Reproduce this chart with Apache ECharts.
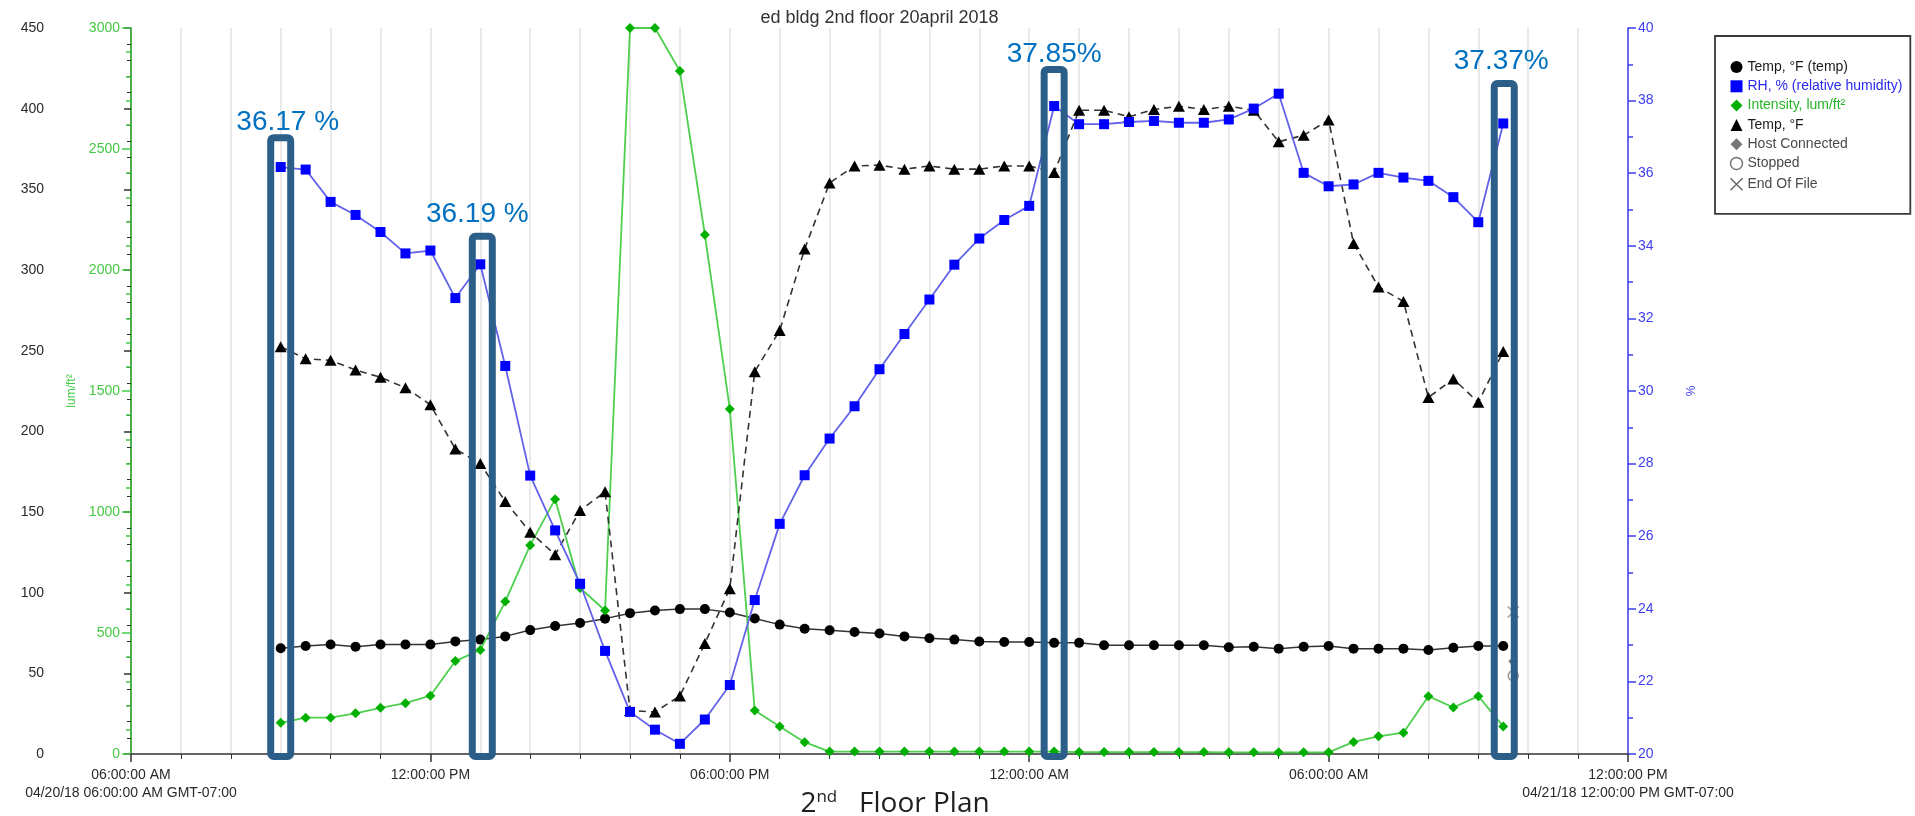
<!DOCTYPE html>
<html>
<head>
<meta charset="utf-8">
<title>ed bldg 2nd floor 20april 2018</title>
<script src="https://cdn.jsdelivr.net/npm/echarts@6/dist/echarts.min.js"></script>
<style>
  html, body { margin: 0; padding: 0; background: #fff; }
  #chart { width: 1915px; height: 816px; }
</style>
</head>
<body>
<div id="chart"></div>
<script>
// ---- logger export: ed bldg, 2nd floor, one reading every 30 minutes ----
const chartTitle = 'ed bldg 2nd floor 20april 2018';

const readingTimes = [
  '04/20 09:00','04/20 09:30','04/20 10:00','04/20 10:30','04/20 11:00','04/20 11:30',
  '04/20 12:00','04/20 12:30','04/20 13:00','04/20 13:30','04/20 14:00','04/20 14:30',
  '04/20 15:00','04/20 15:30','04/20 16:00','04/20 16:30','04/20 17:00','04/20 17:30',
  '04/20 18:00','04/20 18:30','04/20 19:00','04/20 19:30','04/20 20:00','04/20 20:30',
  '04/20 21:00','04/20 21:30','04/20 22:00','04/20 22:30','04/20 23:00','04/20 23:30',
  '04/21 00:00','04/21 00:30','04/21 01:00','04/21 01:30','04/21 02:00','04/21 02:30',
  '04/21 03:00','04/21 03:30','04/21 04:00','04/21 04:30','04/21 05:00','04/21 05:30',
  '04/21 06:00','04/21 06:30','04/21 07:00','04/21 07:30','04/21 08:00','04/21 08:30',
  '04/21 09:00','04/21 09:30'
];

// Temp, °F (temp) — left axis
const tempF = [
  65.5, 66.9, 67.9, 66.5, 67.9, 67.9, 67.9, 69.8, 70.9, 72.9,
  76.8, 79.3, 81.2, 83.9, 87.3, 89.0, 89.8, 89.8, 87.7, 84.0,
  80.2, 77.6, 76.7, 75.6, 74.7, 72.9, 71.7, 70.9, 69.7, 69.4,
  69.4, 68.9, 68.9, 67.4, 67.4, 67.4, 67.4, 67.4, 66.2, 66.5,
  65.3, 66.5, 66.9, 65.3, 65.3, 65.3, 64.5, 65.9, 66.9, 66.9
];

// RH, % (relative humidity) — right axis
const relHumidity = [
  36.17, 36.10, 35.21, 34.85, 34.38, 33.79, 33.87, 32.56, 33.49, 30.69,
  27.67, 26.16, 24.69, 22.84, 21.16, 20.67, 20.28, 20.95, 21.90, 24.24,
  26.34, 27.68, 28.69, 29.58, 30.60, 31.57, 32.52, 33.48, 34.20, 34.71,
  35.10, 37.85, 37.35, 37.35, 37.41, 37.44, 37.39, 37.39, 37.48, 37.78,
  38.19, 36.01, 35.64, 35.69, 36.01, 35.88, 35.79, 35.34, 34.65, 37.37
];

// Intensity, lum/ft² — green axis
const intensity = [
  129, 150, 150, 168, 191, 210, 241, 384, 430, 630,
  863, 1053, 686, 593, 3000, 3000, 2822, 2146, 1426, 180,
  114, 49, 10, 10, 10, 10, 10, 10, 10, 10,
  10, 10, 8, 8, 8, 8, 8, 8, 7, 7,
  7, 7, 7, 50, 73, 88, 239, 192, 239, 114
];

// Temp, °F (second channel) — left axis, dashed
const tempF2 = [
  252.5, 245, 244, 238, 233.5, 227, 216.5, 189, 180, 156.5,
  137.5, 123.5, 151, 162.5, 27, 26, 36, 68.5, 102.5, 237,
  262.5, 313, 354, 364.5, 365, 362.5, 364.5, 362.5, 362.5, 364.5,
  364.5, 360.5, 399, 399, 395, 399.5, 401.5, 399.5, 401.5, 399,
  379.5, 383.5, 393, 316.5, 289.5, 280.5, 221, 232.5, 218, 249.5
];

// logger events at the end of the file
const eventTime = '04/21 09:42';
const hostConnected = [57.5];
const stopped = [48.5];
const endOfFile = [88];

const xTickLabels = ['06:00:00 AM', '12:00:00 PM', '06:00:00 PM', '12:00:00 AM', '06:00:00 AM', '12:00:00 PM'];
const rangeStartLabel = '04/20/18 06:00:00 AM GMT-07:00';
const rangeEndLabel = '04/21/18 12:00:00 PM GMT-07:00';

// highlighted readings
const callouts = [
  { index: 0,  text: '36.17 %' },
  { index: 8,  text: '36.19 %' },
  { index: 31, text: '37.85%' },
  { index: 49, text: '37.37%' }
];

// ---- layout / styling ----
const FONT = '"Liberation Sans", Arial, Helvetica, sans-serif';
const C_BLACK = '#000000';
const C_LINE = '#333333';
const C_BLUE = '#0000ff';
const C_BLUE_LINE = '#6262ea';
const C_GREEN = '#00b000';
const C_GREEN_LINE = '#4fcf4f';
const C_GREEN_AXIS = '#45c845';
const C_BLUE_AXIS = '#3e3ef0';
const C_GRID = '#e2e2e2';
const C_CALLOUT = '#2b5e88';
const C_CALLOUT_TEXT = '#0070c0';

// box top (in RH units), box x nudge, label x nudge, label lift above box (px)
const calloutLayout = [
  { top: 36.98, boxDx: 0, labelDx: 7,  lift: 4 },
  { top: 34.26, boxDx: 2, labelDx: -5, lift: 11 },
  { top: 38.86, boxDx: 0, labelDx: 0,  lift: 4 },
  { top: 38.47, boxDx: 1, labelDx: -3, lift: 10.5 }
];

// hours elapsed since 04/20 06:00
function toHours(s) {
  const [md, hm] = s.split(' ');
  const day = Number(md.split('/')[1]);
  const [h, m] = hm.split(':').map(Number);
  return (day - 20) * 24 + h + m / 60 - 6;
}
const hours = readingTimes.map(toHours);
const pairs = arr => arr.map((v, i) => [hours[i], v]);

const chart = echarts.init(document.getElementById('chart'), null, { renderer: 'canvas' });

const xLabelFormatter = v => {
  const k = Math.round(v / 6);
  let s = xTickLabels[k] || '';
  if (k === 0) s += '\n' + rangeStartLabel;
  if (k === xTickLabels.length - 1) s += '\n' + rangeEndLabel;
  return s;
};
const plainNumber = v => String(v);

const lineBase = {
  type: 'line',
  showSymbol: true,
  clip: false,
  emphasis: { disabled: true },
  animation: false
};

chart.setOption({
  animation: false,
  textStyle: { fontFamily: FONT },
  grid: { left: 131, right: 287, top: 28, bottom: 62 },
  legend: {
    orient: 'vertical',
    left: 1715,
    top: 36,
    padding: [24, 8, 21, 13],
    itemWidth: 12,
    itemHeight: 12,
    itemGap: 5.3,
    borderColor: '#3a3a3a',
    borderWidth: 1.8,
    selectedMode: false,
    textStyle: { fontSize: 14, lineHeight: 14, fontFamily: FONT, color: '#1a1a1a' },
    data: [
      { name: 'Temp, °F (temp)', icon: 'circle', itemStyle: { color: C_BLACK }, textStyle: { color: '#1a1a1a' } },
      { name: 'RH, % (relative humidity)', icon: 'rect', itemStyle: { color: C_BLUE }, textStyle: { color: '#2a2aee' } },
      { name: 'Intensity, lum/ft²', icon: 'diamond', itemStyle: { color: C_GREEN }, textStyle: { color: '#28b428' } },
      { name: 'Temp, °F', icon: 'triangle', itemStyle: { color: C_BLACK }, textStyle: { color: '#1a1a1a' } },
      { name: 'Host Connected', icon: 'diamond', itemStyle: { color: '#555' }, textStyle: { color: '#4a4a4a' } },
      { name: 'Stopped', icon: 'circle', itemStyle: { color: '#fff', borderColor: '#555', borderWidth: 1.5 }, textStyle: { color: '#4a4a4a' } },
      { name: 'End Of File', icon: 'path://M0,0L10,10M10,0L0,10', itemStyle: { color: 'none', borderColor: '#444', borderWidth: 1.5 }, textStyle: { color: '#4a4a4a' } }
    ]
  },
  xAxis: {
    type: 'value',
    min: 0,
    max: 30,
    interval: 6,
    axisLine: { show: true, onZero: false, lineStyle: { color: C_LINE, width: 1.5 } },
    axisTick: { show: true, length: 8, lineStyle: { color: C_LINE, width: 1.5 } },
    minorTick: { show: true, splitNumber: 6, length: 5, lineStyle: { color: C_LINE, width: 1 } },
    splitLine: { show: true, lineStyle: { color: C_GRID, width: 1.5 } },
    minorSplitLine: { show: true, lineStyle: { color: C_GRID, width: 1.5 } },
    axisLabel: {
      formatter: xLabelFormatter,
      color: '#2a2a2a',
      fontSize: 14,
      lineHeight: 18,
      margin: 12,
      showMinLabel: true,
      showMaxLabel: true,
      hideOverlap: false
    }
  },
  yAxis: [
    {
      type: 'value', position: 'left', offset: 79,
      min: 0, max: 450, interval: 50,
      axisLine: { show: true, lineStyle: { color: C_LINE, width: 1.5 } },
      axisTick: { show: true, length: 7, lineStyle: { color: C_LINE, width: 1.5 } },
      minorTick: { show: true, splitNumber: 5, length: 4, lineStyle: { color: C_LINE, width: 1 } },
      splitLine: { show: false },
      axisLabel: { color: '#2a2a2a', fontSize: 14, margin: 8, formatter: plainNumber }
    },
    {
      type: 'value', position: 'left', offset: 0,
      min: 0, max: 3000, interval: 500,
      name: 'lum/ft²', nameLocation: 'middle', nameGap: 53,
      nameTextStyle: { color: C_GREEN_AXIS, fontSize: 12, fontFamily: FONT },
      axisLine: { show: true, lineStyle: { color: C_GREEN_AXIS, width: 1.5 } },
      axisTick: { show: true, length: 9, lineStyle: { color: C_GREEN_AXIS, width: 1.5 } },
      minorTick: { show: true, splitNumber: 5, length: 5, lineStyle: { color: C_GREEN_AXIS, width: 1.5 } },
      splitLine: { show: false },
      axisLabel: { color: C_GREEN_AXIS, fontSize: 14, margin: 11, formatter: plainNumber }
    },
    {
      type: 'value', position: 'right', offset: 0,
      min: 20, max: 40, interval: 2,
      name: '%', nameLocation: 'middle', nameGap: 58,
      nameTextStyle: { color: C_BLUE_AXIS, fontSize: 12, fontFamily: FONT },
      axisLine: { show: true, lineStyle: { color: C_BLUE_AXIS, width: 1.5 } },
      axisTick: { show: true, length: 8, lineStyle: { color: C_BLUE_AXIS, width: 1.5 } },
      minorTick: { show: true, splitNumber: 2, length: 5, lineStyle: { color: C_BLUE_AXIS, width: 1.5 } },
      splitLine: { show: false },
      axisLabel: { color: C_BLUE_AXIS, fontSize: 14, margin: 10, formatter: plainNumber }
    }
  ],
  series: [
    Object.assign({}, lineBase, {
      name: 'Temp, °F (temp)', yAxisIndex: 0, z: 3,
      data: pairs(tempF),
      symbol: 'circle', symbolSize: 10,
      itemStyle: { color: C_BLACK },
      lineStyle: { color: C_LINE, width: 1.5 }
    }),
    Object.assign({}, lineBase, {
      name: 'Intensity, lum/ft²', yAxisIndex: 1, z: 4,
      data: pairs(intensity),
      symbol: 'diamond', symbolSize: 10,
      itemStyle: { color: C_GREEN },
      lineStyle: { color: C_GREEN_LINE, width: 1.8 }
    }),
    Object.assign({}, lineBase, {
      name: 'Temp, °F', yAxisIndex: 0, z: 5,
      data: pairs(tempF2),
      symbol: 'triangle', symbolSize: [12, 11],
      itemStyle: { color: C_BLACK },
      lineStyle: { color: C_LINE, width: 1.6, type: [7, 5] }
    }),
    Object.assign({}, lineBase, {
      name: 'RH, % (relative humidity)', yAxisIndex: 2, z: 6,
      data: pairs(relHumidity),
      symbol: 'rect', symbolSize: 10,
      itemStyle: { color: C_BLUE },
      lineStyle: { color: C_BLUE_LINE, width: 1.8 }
    }),
    {
      name: 'Host Connected', type: 'scatter', yAxisIndex: 0, z: 6, animation: false,
      data: [[toHours(eventTime), hostConnected[0]]],
      symbol: 'diamond', symbolSize: 10,
      itemStyle: { color: '#555' }
    },
    {
      name: 'Stopped', type: 'scatter', yAxisIndex: 0, z: 6, animation: false,
      data: [[toHours(eventTime), stopped[0]]],
      symbol: 'circle', symbolSize: 10,
      itemStyle: { color: '#fff', borderColor: '#777', borderWidth: 1.5 }
    },
    {
      name: 'End Of File', type: 'scatter', yAxisIndex: 0, z: 6, animation: false,
      data: [[toHours(eventTime), endOfFile[0]]],
      symbol: 'path://M0,0L10,10M10,0L0,10', symbolSize: 11,
      itemStyle: { color: 'none', borderColor: '#888', borderWidth: 1.6 }
    }
  ]
});

// ---- title, callout boxes and caption ----
const graphics = [];
const plotLeft = chart.convertToPixel({ xAxisIndex: 0 }, 0);
const plotRight = chart.convertToPixel({ xAxisIndex: 0 }, 30);
const plotBottom = chart.convertToPixel({ yAxisIndex: 2 }, 20);

graphics.push({
  type: 'text', z: 100,
  style: {
    text: chartTitle, x: (plotLeft + plotRight) / 2, y: 18,
    fontSize: 18, fontFamily: FONT, fill: '#333',
    align: 'center', verticalAlign: 'middle'
  }
});

const BOX_W = 20, BOX_STROKE = 7;
callouts.forEach((c, k) => {
  const lay = calloutLayout[k];
  const cx = chart.convertToPixel({ xAxisIndex: 0 }, hours[c.index]) + lay.boxDx;
  const top = chart.convertToPixel({ yAxisIndex: 2 }, lay.top);
  const bottom = plotBottom + 2.5;
  graphics.push({
    type: 'rect', z: 100,
    shape: { x: cx - BOX_W / 2, y: top, width: BOX_W, height: bottom - top, r: 3 },
    style: { fill: 'none', stroke: C_CALLOUT, lineWidth: BOX_STROKE }
  });
  const outerTop = top - BOX_STROKE / 2;
  graphics.push({
    type: 'text', z: 101,
    style: {
      text: c.text, x: cx + lay.labelDx, y: outerTop - lay.lift + 6,
      fontSize: 28, fontFamily: FONT, fill: C_CALLOUT_TEXT,
      align: 'center', verticalAlign: 'bottom'
    }
  });
});

const CAPTION_FONT = '"Open Sans", "Noto Sans", sans-serif';
graphics.push({
  type: 'text', z: 100,
  style: {
    text: '{n|2}{s|nd}{n|   Floor Plan}',
    x: 895, y: 804,
    align: 'center', verticalAlign: 'middle',
    rich: {
      n: { fontSize: 28, fontFamily: CAPTION_FONT, fill: '#1e1e1e', lineHeight: 30 },
      s: { fontSize: 17, fontFamily: CAPTION_FONT, fill: '#1e1e1e', verticalAlign: 'top', lineHeight: 30 }
    }
  }
});

chart.setOption({ graphic: graphics });
</script>
</body>
</html>
